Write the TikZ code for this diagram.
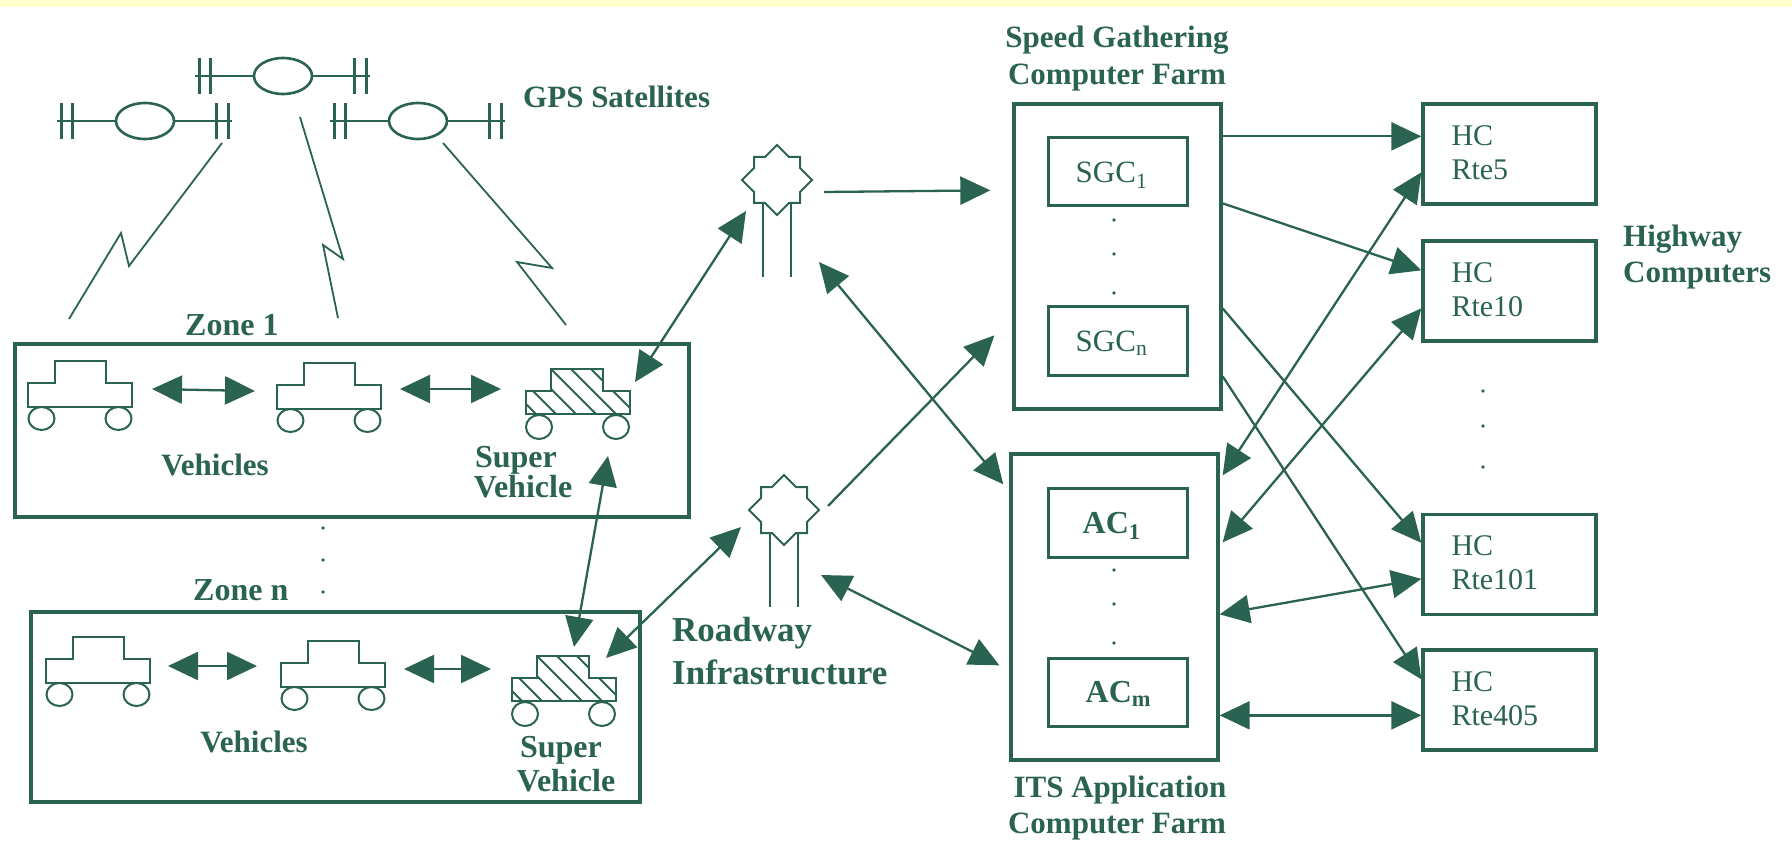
\documentclass[tikz,border=0pt]{standalone}
\usepackage{fontspec}
\setmainfont{Liberation Serif}
\usetikzlibrary{arrows.meta}
\definecolor{ink}{RGB}{42,99,82}
\definecolor{band}{RGB}{255,255,204}
\tikzset{
  bigtri/.tip={Triangle[length=30pt,width=28pt]},
  oneway/.style={draw=ink, line width=2.3pt, -bigtri},
  twoway/.style={draw=ink, line width=2.3pt, bigtri-bigtri},
  frame/.style={draw=ink, line width=3.3pt, inner sep=0pt},
  inbox/.style={draw=ink, line width=3pt, inner sep=0pt},
  lbl/.style={text=ink, inner sep=0pt, font=\fontsize{31}{33}\selectfont\bfseries},
  zlbl/.style={text=ink, inner sep=0pt, font=\fontsize{32}{34}\selectfont\bfseries},
  svl/.style={text=ink, inner sep=0pt, font=\fontsize{32}{34}\selectfont\bfseries},
  rdl/.style={text=ink, inner sep=0pt, font=\fontsize{35}{37}\selectfont\bfseries},
  boxtxt/.style={text=ink, inner sep=0pt, font=\fontsize{31}{33}\selectfont},
  acbtxt/.style={text=ink, inner sep=0pt, font=\fontsize{32}{34}\selectfont\bfseries},
  hctxt/.style={text=ink, inner sep=0pt, font=\fontsize{30}{32}\selectfont},
  bolt/.style={draw=ink, line width=1.8pt},
  carbody/.style={draw=ink, line width=2.6pt, line join=miter},
  wheel/.style={draw=ink, line width=2pt},
  carshape/.pic={
    \coordinate (-o) at (0,0);
    \draw[carbody] (0,0) -- (104,0) -- (104,-24) -- (78,-24) -- (78,-46) -- (27,-46) -- (27,-24) -- (0,-24) -- cycle;
    \draw[wheel] (13.5,11.5) ellipse[x radius=13pt, y radius=11.5pt] (90.5,11.5) ellipse[x radius=13pt, y radius=11.5pt];
  },
  supercar/.pic={
    \coordinate (-o) at (0,0);
    \begin{scope}
      \clip (0,0) -- (104,0) -- (104,-23) -- (77,-23) -- (77,-45) -- (25,-45) -- (25,-23) -- (0,-23) -- cycle;
      \foreach \k in {-60,-40,...,120} \draw[ink, line width=1.8pt] (\k,-50) -- ++(55,55);
    \end{scope}
    \draw[carbody] (0,0) -- (104,0) -- (104,-23) -- (77,-23) -- (77,-45) -- (25,-45) -- (25,-23) -- (0,-23) -- cycle;
    \draw[wheel] (13,13) ellipse[x radius=13pt, y radius=12pt] (90,13) ellipse[x radius=13pt, y radius=12pt];
  },
  antenna/.pic={
    \coordinate (-c) at (0,0);
    \draw[ink, line width=2pt, line join=miter] (-23,-23) -- (-12,-23) -- (0,-35) -- (12,-23) -- (23,-23) -- (23,-12) -- (35,0) -- (23,12) -- (23,23) -- (12,23) -- (0,35) -- (-12,23) -- (-23,23) -- (-23,12) -- (-35,0) -- (-23,-12) -- cycle;
    \draw[ink, line width=2.4pt] (-14,23) -- (-14,97) (14,23) -- (14,97);
  },
  satellite/.pic={
    \coordinate (-c) at (0,0);
    \draw[ink, line width=2.8pt] (-88,0) -- (-29,0) (29,0) -- (87,0);
    \draw[ink, line width=2.6pt] (0,0) ellipse[x radius=29pt, y radius=18pt];
    \foreach \b in {-84,-73,71,83} \draw[ink, line width=3pt] (\b,-18) -- (\b,18);
  }
}
\begin{document}
\begin{tikzpicture}[x=1pt,y=-1pt]
\useasboundingbox (0,0) rectangle (1792,850);
\fill[white] (0,0) rectangle (1792,850);
\fill[band] (0,0) rectangle (1792,7);

% satellites
\pic (sat1) at (145,121) {satellite};
\pic (sat2) at (283,76) {satellite};
\pic (sat3) at (418,121) {satellite};
\node[lbl, anchor=base west] (gps) at (523,108) {GPS Satellites};

% lightning links
\draw[bolt] (222,143) -- (129,266) -- (121,233) -- (69,319);
\draw[bolt] (300,117) -- (343,259) -- (323,245) -- (338,318);
\draw[bolt] (443,143) -- (552,268) -- (517,262) -- (566,325);

% zones
\node[frame, minimum width=674pt, minimum height=173pt] (zone1) at (352,430.5) {};
\node[frame, minimum width=609pt, minimum height=190pt] (zonen) at (335.5,707) {};
\node[zlbl, anchor=base west] (z1l) at (185,336) {Zone 1};
\node[zlbl, anchor=base west] (znl) at (193,600) {Zone n};
\foreach \yy in {528,560,592} \fill[ink] (323,\yy) circle[radius=1.8pt];

% vehicles
\pic (carA) at (28,407) {carshape};
\pic (carB) at (277,409) {carshape};
\pic (sv1) at (526,414) {supercar};
\pic (carC) at (46,683) {carshape};
\pic (carD) at (281,687) {carshape};
\pic (svn) at (512,701) {supercar};

\node[lbl, anchor=base] (veh1) at (215,475) {Vehicles};
\node[svl, anchor=base] (sup1) at (516,467) {Super};
\node[svl, anchor=base] (svv1) at (523,497) {Vehicle};
\node[lbl, anchor=base] (veh2) at (254,752) {Vehicles};
\node[svl, anchor=base] (sup2) at (561,757) {Super};
\node[svl, anchor=base] (svv2) at (566,791) {Vehicle};

% roadway infrastructure
\pic (ant1) at (777,180) {antenna};
\pic (ant2) at (784,510) {antenna};
\node[rdl, anchor=base west] (road1) at (672,641) {Roadway};
\node[rdl, anchor=base west] (road2) at (672,684) {Infrastructure};

% speed gathering farm
\node[frame, minimum width=207pt, minimum height=305pt] (sg) at (1117.5,256.5) {};
\node[inbox, minimum width=139pt, minimum height=68pt] (sgc1) at (1117.5,172) {};
\node[inbox, minimum width=139pt, minimum height=69pt] (sgcn) at (1117.5,341.5) {};
\node[boxtxt, anchor=base west] (sgc1t) at ([shift={(29,46)}]sgc1.north west) {SGC\textsubscript{1}};
\node[boxtxt, anchor=base west] (sgcnt) at ([shift={(29,46)}]sgcn.north west) {SGC\textsubscript{n}};
\foreach \yy in {220,254,293} \fill[ink] (1114,\yy) circle[radius=1.8pt];
\node[lbl, anchor=base] (sgl1) at (1117,48) {Speed Gathering};
\node[lbl, anchor=base] (sgl2) at (1117,85) {Computer Farm};

% ITS application farm
\node[frame, minimum width=207pt, minimum height=306pt] (its) at (1114.5,607) {};
\node[inbox, minimum width=139pt, minimum height=69pt] (ac1) at (1117.5,522.5) {};
\node[inbox, minimum width=139pt, minimum height=68pt] (acm) at (1117.5,692) {};
\node[acbtxt, anchor=base west] (ac1t) at ([shift={(36,47)}]ac1.north west) {AC\textsubscript{1}};
\node[acbtxt, anchor=base west] (acmt) at ([shift={(39,46)}]acm.north west) {AC\textsubscript{m}};
\foreach \yy in {570,604,643} \fill[ink] (1114,\yy) circle[radius=1.8pt];
\node[lbl, anchor=base] (itsl1) at (1120,797) {ITS Application};
\node[lbl, anchor=base] (itsl2) at (1117,833) {Computer Farm};

% highway computers
\node[frame, minimum width=173pt, minimum height=100pt] (hc5) at (1509.5,154) {};
\node[frame, minimum width=173pt, minimum height=100pt] (hc10) at (1509.5,291) {};
\node[frame, minimum width=173pt, minimum height=100pt] (hc101) at (1509.5,564.5) {};
\node[frame, minimum width=173pt, minimum height=100pt] (hc405) at (1509.5,700) {};
\node[hctxt, anchor=base west] (hc5a) at ([shift={(30,43)}]hc5.north west) {HC};
\node[hctxt, anchor=base west] (hc5b) at ([shift={(30,77)}]hc5.north west) {Rte5};
\node[hctxt, anchor=base west] (hc10a) at ([shift={(30,43)}]hc10.north west) {HC};
\node[hctxt, anchor=base west] (hc10b) at ([shift={(30,77)}]hc10.north west) {Rte10};
\node[hctxt, anchor=base west] (hc101a) at ([shift={(30,43)}]hc101.north west) {HC};
\node[hctxt, anchor=base west] (hc101b) at ([shift={(30,77)}]hc101.north west) {Rte101};
\node[hctxt, anchor=base west] (hc405a) at ([shift={(30,43)}]hc405.north west) {HC};
\node[hctxt, anchor=base west] (hc405b) at ([shift={(30,77)}]hc405.north west) {Rte405};
\foreach \yy in {391,426,467} \fill[ink] (1483,\yy) circle[radius=1.8pt];
\node[lbl, anchor=base west] (hwl1) at (1623,247) {Highway};
\node[lbl, anchor=base west] (hwl2) at (1623,283) {Computers};

% connectors: vehicles
\draw[twoway] ([shift={(124,-18)}]carA-o) -- ([shift={(-22,-18)}]carB-o);
\draw[twoway] ([shift={(123,-20)}]carB-o) -- ([shift={(-25,-25)}]sv1-o);
\draw[twoway] ([shift={(122,-17)}]carC-o) -- ([shift={(-24,-21)}]carD-o);
\draw[twoway] ([shift={(123,-18)}]carD-o) -- ([shift={(-21,-32)}]svn-o);
\draw[twoway] ([shift={(109,-32)}]sv1-o) -- ([shift={(-31,31)}]ant1-c);
\draw[twoway] ([shift={(82,42)}]sv1-o) -- ([shift={(62,-54)}]svn-o);
\draw[twoway] ([shift={(94,-43)}]svn-o) -- ([shift={(-43,17)}]ant2-c);

% connectors: roadway to farms
\draw[oneway] ([shift={(47,12)}]ant1-c) -- ([shift={(-22,88)}]sg.north west);
\draw[twoway] ([shift={(42,82)}]ant1-c) -- ([shift={(-6,32)}]its.north west);
\draw[oneway] ([shift={(44,-4)}]ant2-c) -- ([shift={(-18,233)}]sg.north west);
\draw[twoway] ([shift={(37,65)}]ant2-c) -- ([shift={(-10,213)}]its.north west);

% connectors: farms to highway computers
\draw[oneway] ([shift={(0,34)}]sg.north east) -- ([shift={(0,34)}]hc5.north west);
\draw[oneway] ([shift={(0,101)}]sg.north east) -- ([shift={(0,31)}]hc10.north west);
\draw[oneway] ([shift={(0,206)}]sg.north east) -- ([shift={(0,30)}]hc101.north west);
\draw[oneway] ([shift={(0,274)}]sg.north east) -- ([shift={(0,31)}]hc405.north west);
\draw[twoway] ([shift={(0,70)}]hc5.north west) -- ([shift={(3,23)}]its.north east);
\draw[twoway] ([shift={(0,69)}]hc10.north west) -- ([shift={(3,90)}]its.north east);
\draw[twoway] ([shift={(0,66)}]hc101.north west) -- ([shift={(0,162)}]its.north east);
\draw[twoway] ([shift={(0,67)}]hc405.north west) -- ([shift={(0,263)}]its.north east);
\end{tikzpicture}
\end{document}
